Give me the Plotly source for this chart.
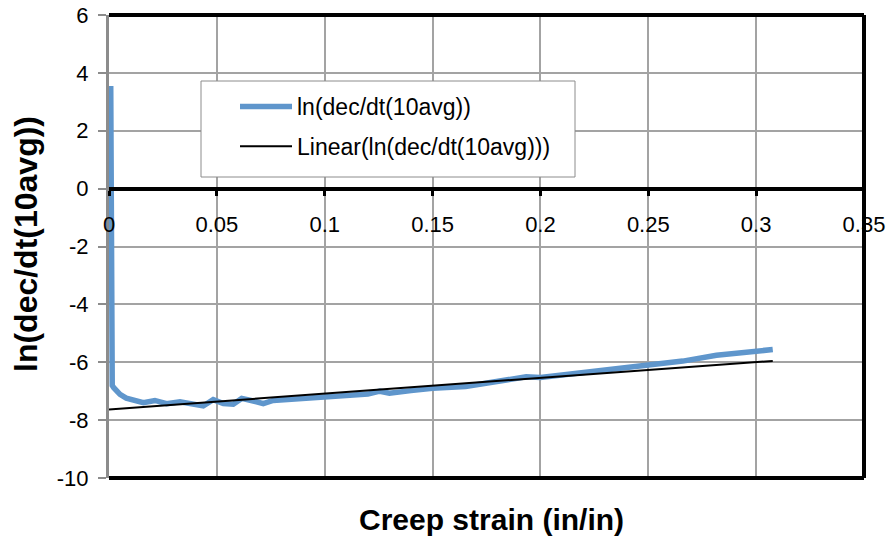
import plotly.graph_objects as go

# ---- data ----
strain = [0.0008, 0.0009, 0.001, 0.0015, 0.0022, 0.003, 0.0051, 0.008, 0.0113, 0.0159,
          0.0213, 0.0267, 0.0329, 0.0375, 0.0437, 0.0483, 0.053, 0.0576, 0.0615, 0.0669,
          0.0715, 0.0761, 0.0885, 0.0978, 0.11, 0.12, 0.1256, 0.13, 0.14, 0.15,
          0.1653, 0.181, 0.1934, 0.2, 0.212, 0.2276, 0.25, 0.266, 0.2816, 0.3, 0.3077]
ln_rate = [3.55, -3.0, -6.65, -6.8, -6.88, -6.95, -7.11, -7.24, -7.32, -7.40,
           -7.32, -7.43, -7.37, -7.42, -7.51, -7.29, -7.43, -7.45, -7.25, -7.34,
           -7.43, -7.32, -7.25, -7.2, -7.15, -7.1, -7.0, -7.07, -6.98, -6.9,
           -6.84, -6.65, -6.5, -6.53, -6.42, -6.3, -6.07, -5.96, -5.76, -5.64, -5.56]
trend_slope = 5.45
trend_intercept = -7.63
trend_x = [0.0, strain[-1]]
trend_y = [trend_intercept + trend_slope * v for v in trend_x]

x_ticks = [0, 0.05, 0.1, 0.15, 0.2, 0.25, 0.3, 0.35]
x_ticktext = ["0", "0.05", "0.1", "0.15", "0.2", "0.25", "0.3", "0.35"]
y_ticks = [-10, -8, -6, -4, -2, 0, 2, 4, 6]
y_ticktext = ["-10", "-8", "-6", "-4", "-2", "0", "2", "4", "6"]

FONT = "Liberation Sans, Arial, sans-serif"
GRID = "#A3A3A3"

fig = go.Figure()
fig.add_trace(go.Scatter(
    x=strain, y=ln_rate, mode="lines", name="ln(dec/dt(10avg))",
    line=dict(color="#5F96CC", width=5.5), legendgroup="a"))
fig.add_trace(go.Scatter(
    x=trend_x, y=trend_y, mode="lines", name="Linear(ln(dec/dt(10avg)))",
    line=dict(color="black", width=2), legendgroup="b"))

y_min, y_max = -10, 6
zero_pos = (0 - y_min) / (y_max - y_min)

# plot-area geometry (pixels) used to place paper-referenced items
L, R, T, B = 109, 23, 15, 59
W, H = 887, 537
pw, ph = W - L - R, H - T - B
def px_x(p):
    return (p - L) / pw
def px_y(p):
    return (H - B - p) / ph

fig.update_layout(
    width=W, height=H,
    margin=dict(l=L, r=R, t=T, b=B, autoexpand=False),
    paper_bgcolor="white", plot_bgcolor="white",
    font=dict(family=FONT, color="black", size=22),
    showlegend=True,
    legend=dict(x=px_x(235), y=px_y(85), xanchor="left", yanchor="top",
                bgcolor="rgba(0,0,0,0)", borderwidth=0,
                font=dict(family=FONT, size=23, color="black"),
                tracegroupgap=7, itemwidth=52),
    xaxis=dict(range=[0, 0.35], tickvals=x_ticks, ticktext=x_ticktext,
               showgrid=True, gridcolor=GRID, gridwidth=2,
               zeroline=False, anchor="free", position=zero_pos,
               showline=True, linecolor="black", linewidth=4,
               ticks="outside", ticklen=5, tickwidth=3, tickcolor="black",
               ticklabelstandoff=10, automargin=False,
               tickfont=dict(family=FONT, size=22, color="black")),
    yaxis=dict(range=[y_min, y_max], tickvals=y_ticks, ticktext=y_ticktext,
               showgrid=True, gridcolor=GRID, gridwidth=2,
               zeroline=False,
               showline=True, linecolor="#8C8C8C", linewidth=3,
               ticks="outside", ticklen=8, tickwidth=2, tickcolor="#8C8C8C",
               ticklabelstandoff=5, automargin=False,
               tickfont=dict(family=FONT, size=22, color="black")),
    shapes=[
        dict(type="rect", xref="paper", yref="paper",
             x0=px_x(201), x1=px_x(575), y0=px_y(177), y1=px_y(81),
             fillcolor="white", line=dict(color="#8C8C8C", width=1), layer="above"),
        dict(type="line", xref="paper", yref="paper", x0=0, x1=1, y0=1, y1=1,
             line=dict(color="black", width=4), layer="above"),
        dict(type="line", xref="paper", yref="paper", x0=1, x1=1, y0=0, y1=1,
             line=dict(color="black", width=4), layer="above"),
        dict(type="line", xref="paper", yref="paper", x0=0, x1=1, y0=0, y1=0,
             line=dict(color="black", width=4), layer="above"),
    ],
    annotations=[
        dict(text="<b>Creep strain (in/in)</b>", xref="paper", yref="paper",
             x=px_x(492), y=px_y(519), xanchor="center", yanchor="middle",
             showarrow=False, font=dict(family=FONT, size=30, color="black")),
        dict(text="<b>ln(dec/dt(10avg))</b>", xref="paper", yref="paper",
             x=px_x(26), y=px_y(244), xanchor="center", yanchor="middle", textangle=-90,
             showarrow=False, font=dict(family=FONT, size=32, color="black")),
    ],
)

fig.write_html("out.html")
